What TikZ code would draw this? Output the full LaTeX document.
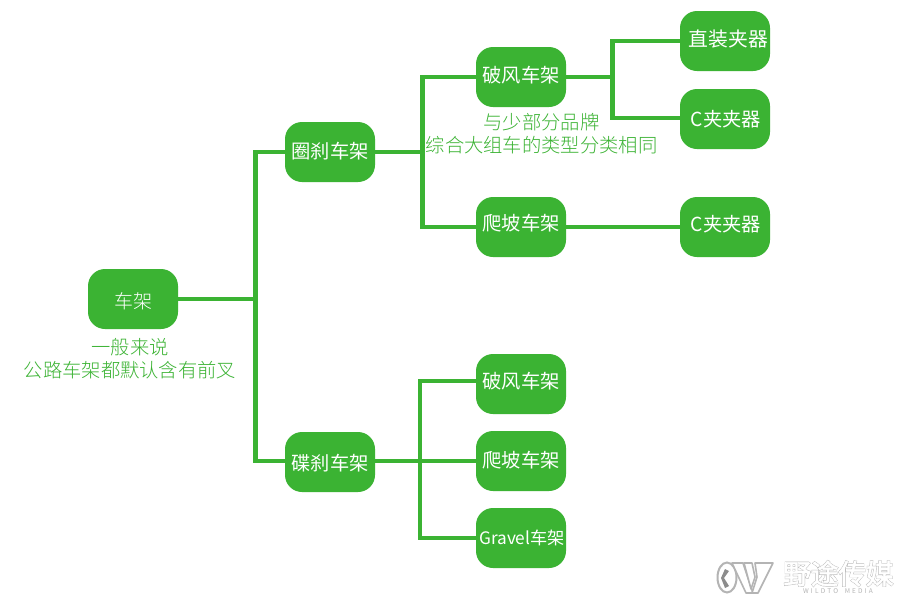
\documentclass[tikz,border=0pt]{standalone}
\usepackage{fontspec}
\setmainfont{Noto Sans CJK SC}[UprightFont=* Light]
\newfontfamily\boxfont{Noto Sans CJK SC}
\newfontfamily\wmfont{Noto Sans CJK SC}[FakeBold=2]
\newfontfamily\wmheavy{Noto Sans CJK SC}[FakeBold=5]
\definecolor{brand}{HTML}{3BB333}
\definecolor{wmgray}{HTML}{B4B4B4}
\definecolor{wmdark}{HTML}{8C8C8C}
\newcommand{\up}[2][0]{\raisebox{\dimexpr#1pt-7pt\relax}[0pt][0pt]{#2}}
\tikzset{
  x=1pt,y=-1pt,
  box/.style={fill=brand,rounded corners=17pt,minimum width=90pt,minimum height=60pt,inner sep=0pt,text=white,font=\boxfont\fontsize{19.3}{19.3}\selectfont},
  link/.style={draw=brand,line width=4.5pt,line cap=butt,line join=miter},
  note/.style={text=brand,font=\fontsize{19.3}{23.5}\selectfont,align=center,inner sep=0pt},
  wmshape/.style={fill=white,draw=wmgray,line width=1.6pt,line join=round},
}
\begin{document}
\begin{tikzpicture}
\useasboundingbox (0,0) rectangle (900,600);
\fill[white] (0,0) rectangle (900,600);

\node[box,font=\rmfamily\fontsize{19}{19}\selectfont] (root) at (133,299) {\up[-2]{车架}};
\node[box] (rim) at (330,152) {\up[1]{圈刹车架}};
\node[box] (disc) at (330,462) {\up[-1]{碟刹车架}};
\node[box] (aero1) at (521,77) {\up[2]{破风车架}};
\node[box] (climb1) at (521,227) {\up[4]{爬坡车架}};
\node[box,font=\boxfont\fontsize{19.8}{19.8}\selectfont] (direct) at (725,41) {\hspace{7pt}\up[2]{直装夹器}};
\node[box] (c1) at (725,119) {\hspace{2pt}\up[0]{C夹夹器}};
\node[box] (c2) at (725,227) {\hspace{2pt}\up[3]{C夹夹器}};
\node[box] (aero2) at (521,384) {\up[3]{破风车架}};
\node[box] (climb2) at (521,461) {\up[1]{爬坡车架}};
\node[box,font=\boxfont\fontsize{17.2}{17.2}\selectfont] (gravel) at (521,538) {\hspace{2pt}\up[1]{Gravel车架}};

\coordinate (j0) at (255.5,299);
\coordinate (j1) at (422.5,152);
\coordinate (j2) at (612.5,77);
\coordinate (j3) at (420,461);

\draw[link] (root.east) -- (j0);
\draw[link] (rim.west) -| (j0);
\draw[link] ([yshift=1pt]disc.west) -| (j0);
\draw[link] (rim.east) -- (j1);
\draw[link] (aero1.west) -| (j1);
\draw[link] (climb1.west) -| (j1);
\draw[link] (aero1.east) -- (j2);
\draw[link] (direct.west) -| (j2);
\draw[link] ([yshift=1pt]c1.west) -| (j2);
\draw[link] (climb1.east) -- (c2.west);
\draw[link] ([yshift=1pt]disc.east) -- (climb2.west);
\draw[link] ([yshift=3pt]aero2.west) -| (j3);
\draw[link] (gravel.west) -| (j3);

\node[note] (n1) at (130,358.5) {一般来说\\公路车架都默认含有前叉};
\node[note] (n2) at (541.5,133.5) {与少部分品牌\\综合大组车的类型分类相同};

% watermark
\path[fill=white,draw=wmgray,line width=2pt] (727,577.5) ellipse[x radius=9.5,y radius=15];
\fill[wmdark] (725,569) -- (729,571) -- (724,578) -- (729,586) -- (725,588) -- (721,578) -- cycle;
\path[wmshape] (732,563) -- (743,563) -- (753,593) -- (746,593) -- cycle;
\path[wmshape] (744,563) -- (752,563) -- (755,577) -- (751,589) -- cycle;
\path[wmshape] (755,563) -- (773,563) -- (758,593) -- (752,593) -- (757,577) -- cycle;

\node[inner sep=0pt,text=wmgray] (wmback) at (838.5,573.5) {\wmheavy\fontsize{27.5}{27.5}\selectfont 野途传媒};
\node[inner sep=0pt,text=white] (wmcn) at (838.5,573.5) {\wmfont\fontsize{27.5}{27.5}\selectfont 野途传媒};
\node[inner sep=0pt,text=wmgray] (wmen) at (838,591) {\boxfont\fontsize{6.5}{7}\selectfont W\,\,I\,\,L\,\,D\,\,T\,\,O\enspace\enspace M\,\,E\,\,D\,\,I\,\,A};
\end{tikzpicture}
\end{document}
